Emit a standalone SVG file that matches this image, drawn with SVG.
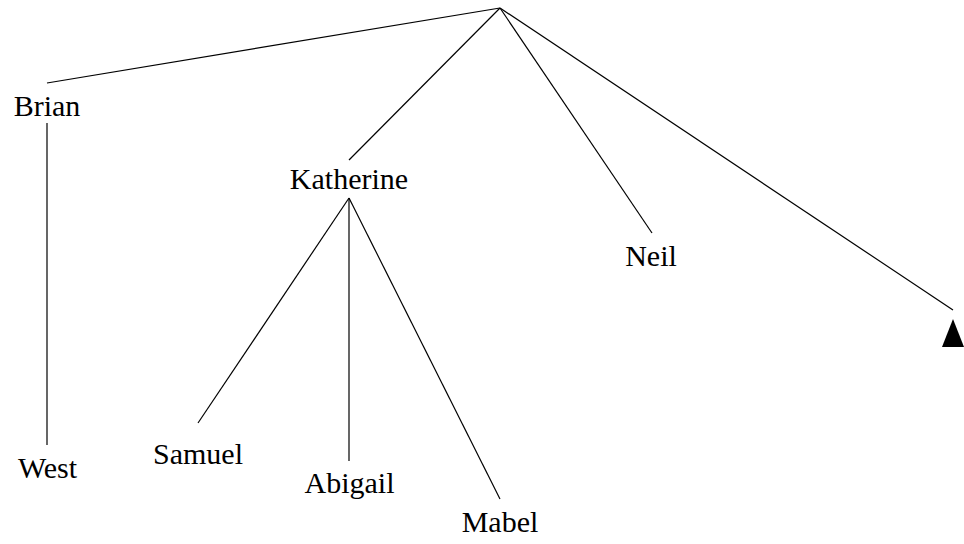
<svg xmlns="http://www.w3.org/2000/svg" width="964" height="544" viewBox="0 0 964 544">
<style>
.e{stroke:#000;stroke-width:1.2;fill:none}
.t{font-family:'Liberation Serif',Tinos,'Times New Roman',Times,'DejaVu Serif',serif;font-size:30px;fill:#000;text-anchor:middle}
</style>
<rect width="964" height="544" fill="#fff"/>
<g id="connectors">
<line class="e" x1="500" y1="8" x2="47" y2="83"/>
<line class="e" x1="500" y1="8" x2="349" y2="160"/>
<line class="e" x1="500" y1="8" x2="652" y2="233"/>
<line class="e" x1="500" y1="8" x2="953" y2="310"/>
<line class="e" x1="47" y1="123" x2="47" y2="445"/>
<line class="e" x1="349" y1="198" x2="198" y2="423"/>
<line class="e" x1="349" y1="198" x2="349" y2="461"/>
<line class="e" x1="349" y1="198" x2="500" y2="499"/>
</g>
<g id="brian"><text class="t" x="47" y="115.5" font-family="Liberation Serif, serif">Brian</text></g>
<g id="katherine"><text class="t" x="349" y="188.5" font-family="Liberation Serif, serif">Katherine</text></g>
<g id="neil"><text class="t" x="651" y="266" font-family="Liberation Serif, serif">Neil</text></g>
<g id="triangle"><polygon points="953,319 942,347 964,347" fill="#000"/></g>
<g id="west"><text class="t" x="47.5" y="478" font-family="Liberation Serif, serif">West</text></g>
<g id="samuel"><text class="t" x="198" y="464" font-family="Liberation Serif, serif">Samuel</text></g>
<g id="abigail"><text class="t" x="349.5" y="493" font-family="Liberation Serif, serif">Abigail</text></g>
<g id="mabel"><text class="t" x="500" y="532" font-family="Liberation Serif, serif">Mabel</text></g>
</svg>
